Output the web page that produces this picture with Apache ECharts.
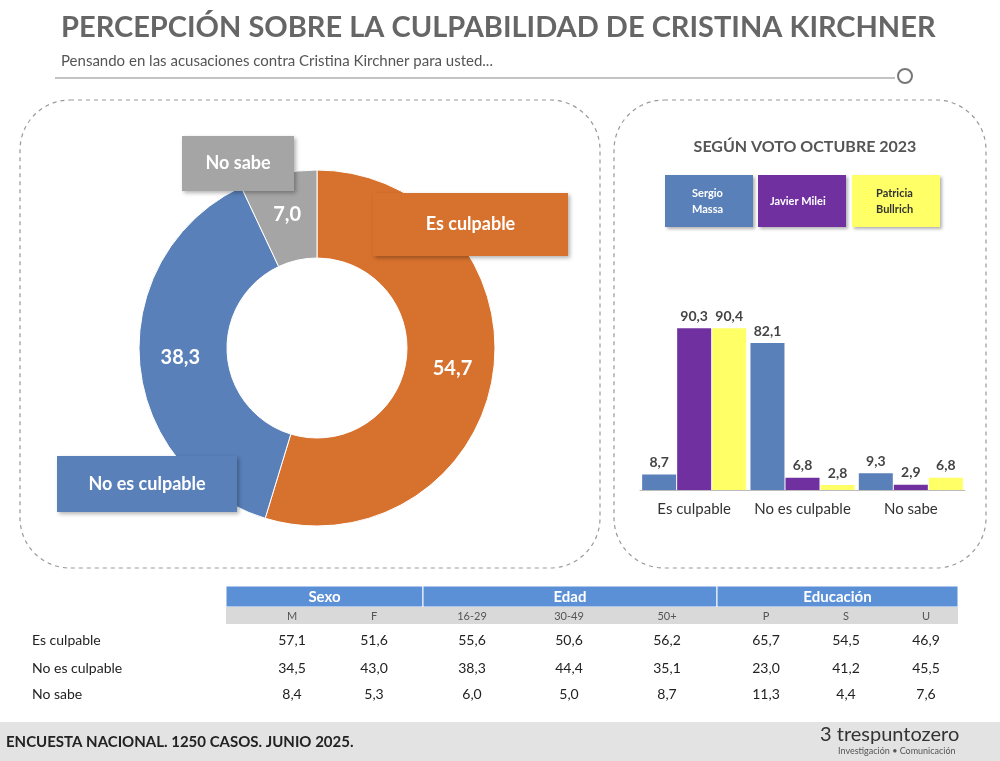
<!DOCTYPE html>
<html><head><meta charset="utf-8">
<script src="https://cdn.jsdelivr.net/npm/echarts@6/dist/echarts.min.js"></script>
<style>html,body{margin:0;padding:0;background:#fff}#c{width:1000px;height:761px}</style>
</head><body><div id="c"></div>
<script>
// datos generales
var pieNames = ['Es culpable', 'No es culpable', 'No sabe'];
var pieValues = [54.7, 38.3, 7.0];
var pieColors = ['#D7712E', '#5A80B9', '#A5A5A5'];

// según voto
var voteCats = ['Es culpable', 'No es culpable', 'No sabe'];
var massa = [8.7, 82.1, 9.3];
var milei = [90.3, 6.8, 2.9];
var bullrich = [90.4, 2.8, 6.8];

// tabla
var rowNames = ['Es culpable', 'No es culpable', 'No sabe'];
var colNames = ['M', 'F', '16-29', '30-49', '50+', 'P', 'S', 'U'];
var tableVals = [
    [57.1, 51.6, 55.6, 50.6, 56.2, 65.7, 54.5, 46.9],
    [34.5, 43.0, 38.3, 44.4, 35.1, 23.0, 41.2, 45.5],
    [8.4, 5.3, 6.0, 5.0, 8.7, 11.3, 4.4, 7.6]
];
var groups = [['Sexo', 226, 423], ['Edad', 423, 717], ['Educación', 717, 958]];

var fmt = function (v) { return v.toFixed(1).replace('.', ','); };
var font = 'Lato, "Open Sans", sans-serif';

var g = [];
// cajas punteadas
g.push({ type: 'rect', z: 1, shape: { x: 20, y: 100, width: 580, height: 468, r: 50 }, style: { fill: 'none', stroke: '#999', lineDash: [4, 4], lineWidth: 1.2 } });
g.push({ type: 'rect', z: 1, shape: { x: 614, y: 100, width: 372, height: 468, r: 50 }, style: { fill: 'none', stroke: '#999', lineDash: [4, 4], lineWidth: 1.2 } });
// línea bajo subtítulo
g.push({ type: 'line', shape: { x1: 55, y1: 78, x2: 895, y2: 78 }, style: { stroke: '#888', lineWidth: 1.2 } });
g.push({ type: 'circle', shape: { cx: 905, cy: 76, r: 7 }, style: { fill: 'none', stroke: '#777', lineWidth: 2 } });

// etiquetas del donut
function box(x, y, w, h, color, text, fs) {
    g.push({ type: 'rect', z: 100, shape: { x: x, y: y, width: w, height: h }, style: { fill: color, shadowBlur: 4, shadowColor: 'rgba(0,0,0,0.3)', shadowOffsetX: 2, shadowOffsetY: 2 } });
    g.push({ type: 'text', z: 101, x: x + w / 2, y: y + h / 2, style: { text: text, fill: '#fff', font: 'bold ' + fs + 'px ' + font, align: 'center', verticalAlign: 'middle' } });
}
box(373, 193, 195, 63, pieColors[0], 'Es culpable', 18);
box(57, 456, 180, 56, pieColors[1], 'No es culpable', 18);
box(182, 136, 112, 55, pieColors[2], 'No sabe', 18);

// leyenda de barras
function legBox(x, color, text, tc, tx) {
    g.push({ type: 'rect', shape: { x: x, y: 175, width: 88, height: 52 }, style: { fill: color, shadowBlur: 3, shadowColor: 'rgba(0,0,0,0.3)', shadowOffsetX: 2, shadowOffsetY: 2 } });
    g.push({ type: 'text', x: x + tx, y: 201, style: { text: text, fill: tc, font: 'bold 11px ' + font, align: 'left', verticalAlign: 'middle', lineHeight: 16 } });
}
legBox(665, '#5A80B9', 'Sergio\nMassa', '#fff', 27);
legBox(758, '#7030A0', 'Javier Milei', '#fff', 12);
legBox(852, '#FFFF66', 'Patricia\nBullrich', '#333', 24);

// tabla
groups.forEach(function (gr) {
    g.push({ type: 'rect', shape: { x: gr[1], y: 586, width: gr[2] - gr[1], height: 21 }, style: { fill: '#5B8FD6', stroke: '#fff', lineWidth: 1 } });
    g.push({ type: 'text', x: (gr[1] + gr[2]) / 2, y: 597, style: { text: gr[0], fill: '#fff', font: 'bold 15px ' + font, align: 'center', verticalAlign: 'middle' } });
});
g.push({ type: 'rect', shape: { x: 226, y: 607, width: 732, height: 17 }, style: { fill: '#D9D9D9' } });
var colX = [292, 374, 472, 569, 667, 766, 846, 926];
colNames.forEach(function (n, i) {
    g.push({ type: 'text', x: colX[i], y: 616, style: { text: n, fill: '#555', font: '11px ' + font, align: 'center', verticalAlign: 'middle' } });
});
var rowY = [640, 668, 694];
rowNames.forEach(function (n, r) {
    g.push({ type: 'text', x: 32, y: rowY[r], style: { text: n, fill: '#222', font: '14px ' + font, align: 'left', verticalAlign: 'middle' } });
    tableVals[r].forEach(function (v, i) {
        g.push({ type: 'text', x: colX[i], y: rowY[r], style: { text: fmt(v), fill: '#222', font: '14px ' + font, align: 'center', verticalAlign: 'middle' } });
    });
});

// pie de página
g.push({ type: 'rect', shape: { x: 0, y: 722, width: 1000, height: 39 }, style: { fill: '#E3E3E3' } });
g.push({ type: 'text', x: 6, y: 742, style: { text: 'ENCUESTA NACIONAL. 1250 CASOS. JUNIO 2025.', fill: '#222', font: 'bold 15px ' + font, verticalAlign: 'middle' } });
g.push({ type: 'text', x: 820, y: 735, style: { text: '3 trespuntozero', fill: '#333', font: '20px ' + font, verticalAlign: 'middle' } });
g.push({ type: 'text', x: 838, y: 751, style: { text: 'Investigación • Comunicación', fill: '#555', font: '9px ' + font, verticalAlign: 'middle' } });

var chart = echarts.init(document.getElementById('c'));
chart.setOption({
    animation: false,
    title: [{
        text: 'PERCEPCIÓN SOBRE LA CULPABILIDAD DE CRISTINA KIRCHNER',
        left: 56, top: 8,
        textStyle: { fontFamily: font, fontSize: 29, fontWeight: 'bold', color: '#666' }
    }, {
        text: 'Pensando en las acusaciones contra Cristina Kirchner para usted...',
        left: 56, top: 49,
        textStyle: { fontFamily: font, fontSize: 15, fontWeight: 'normal', color: '#555' }
    }, {
        text: 'SEGÚN VOTO OCTUBRE 2023',
        left: 800, top: 134, textAlign: 'center',
        textStyle: { fontFamily: font, fontSize: 16, fontWeight: 'bold', color: '#555' }
    }],
    grid: { left: 640, right: 35, top: 311, bottom: 271 },
    xAxis: {
        type: 'category', data: voteCats,
        axisLine: { lineStyle: { color: '#bbb' } }, axisTick: { show: false },
        axisLabel: { interval: 0, fontFamily: font, fontSize: 15, color: '#333', margin: 12 }
    },
    yAxis: { type: 'value', min: 0, max: 100, show: false, splitLine: { show: false } },
    series: [{
        type: 'pie', center: [317, 348], radius: [90, 178], startAngle: 90,
        silent: true, z: 2,
        data: pieNames.map(function (n, i) { return { name: n, value: pieValues[i], itemStyle: { color: pieColors[i] } }; }),
        itemStyle: { borderColor: '#fff', borderWidth: 1 },
        label: {
            position: 'inside', formatter: function (p) { return fmt(p.value); },
            color: '#fff', fontFamily: font, fontSize: 20, fontWeight: 'bold'
        },
        labelLine: { show: false }
    }].concat([['Sergio Massa', massa, '#5A80B9'], ['Javier Milei', milei, '#7030A0'], ['Patricia Bullrich', bullrich, '#FFFF66']].map(function (s) {
        return {
            type: 'bar', name: s[0], data: s[1], barWidth: 34, barGap: '3%',
            itemStyle: { color: s[2] },
            label: { show: true, position: 'top', formatter: function (p) { return fmt(p.value); }, fontFamily: font, fontSize: 14, fontWeight: 'bold', color: '#444' }
        };
    })),
    graphic: g
});
</script>
</body></html>
